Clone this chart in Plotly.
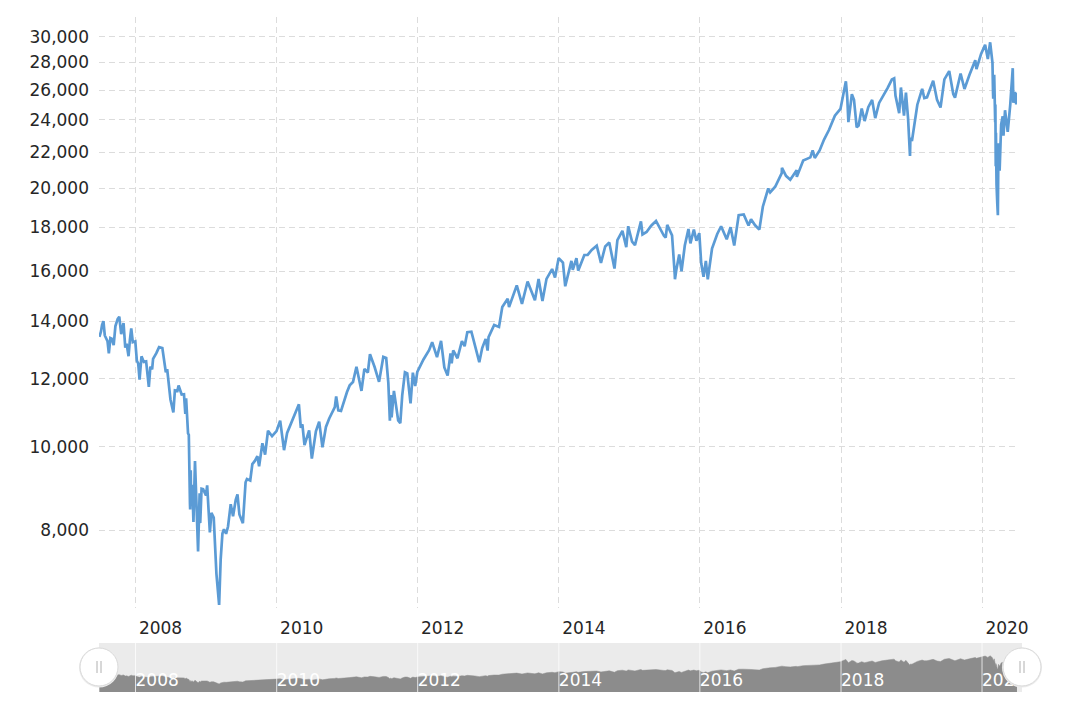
import math
import plotly.graph_objects as go

# ---------------- data (Dow Jones Industrial Average, approximate closes) ----------------
dates = [
    "2007-06-28", "2007-07-06", "2007-07-12", "2007-07-19", "2007-07-26", "2007-08-01", "2007-08-09",
    "2007-08-16", "2007-08-24", "2007-08-31", "2007-09-10", "2007-09-19", "2007-10-01", "2007-10-09",
    "2007-10-19", "2007-10-31", "2007-11-09", "2007-11-16", "2007-11-26", "2007-12-03", "2007-12-10",
    "2007-12-18", "2007-12-31",
    "2008-01-08", "2008-01-15", "2008-01-22", "2008-02-01", "2008-02-13", "2008-02-25", "2008-03-10",
    "2008-03-18", "2008-03-27", "2008-04-01", "2008-04-18", "2008-05-02", "2008-05-19", "2008-05-28",
    "2008-06-06", "2008-06-13", "2008-06-26", "2008-06-30", "2008-07-15", "2008-07-23", "2008-08-05",
    "2008-08-11", "2008-08-27", "2008-09-08", "2008-09-15", "2008-09-19", "2008-09-29", "2008-10-03",
    "2008-10-09", "2008-10-10", "2008-10-13", "2008-10-15", "2008-10-21", "2008-10-27", "2008-11-04",
    "2008-11-12", "2008-11-20", "2008-11-28", "2008-12-01", "2008-12-08", "2008-12-16", "2008-12-31",
    "2009-01-06", "2009-01-20", "2009-01-28", "2009-02-09", "2009-02-23", "2009-03-09", "2009-03-17",
    "2009-03-26", "2009-04-03", "2009-04-14", "2009-04-24", "2009-05-08", "2009-05-20", "2009-06-03",
    "2009-06-12", "2009-06-22", "2009-07-10", "2009-07-24", "2009-07-31", "2009-08-17", "2009-08-28",
    "2009-09-10", "2009-09-23", "2009-10-02", "2009-10-19", "2009-11-02", "2009-11-17", "2009-12-08",
    "2009-12-31",
    "2010-01-19", "2010-02-08", "2010-02-24", "2010-03-31", "2010-04-26", "2010-05-06", "2010-05-14",
    "2010-05-25", "2010-06-18", "2010-07-02", "2010-07-23", "2010-08-09", "2010-08-26", "2010-09-13",
    "2010-09-30", "2010-10-29", "2010-11-05", "2010-11-16", "2010-11-30", "2010-12-31",
    "2011-01-14", "2011-01-31", "2011-02-18", "2011-03-16", "2011-03-31", "2011-04-18", "2011-04-29",
    "2011-05-23", "2011-06-15", "2011-07-07", "2011-07-22", "2011-08-02", "2011-08-08", "2011-08-10",
    "2011-08-15", "2011-08-19", "2011-08-31", "2011-09-22", "2011-10-03", "2011-10-13", "2011-10-27",
    "2011-11-08", "2011-11-25", "2011-12-07", "2011-12-19", "2011-12-30",
    "2012-01-31", "2012-02-29", "2012-03-16", "2012-04-10", "2012-05-01", "2012-05-18", "2012-06-04",
    "2012-06-19", "2012-06-25", "2012-07-03", "2012-07-25", "2012-08-17", "2012-08-31", "2012-09-14",
    "2012-10-05", "2012-10-23", "2012-11-15", "2012-11-30", "2012-12-18", "2012-12-28",
    "2013-01-02", "2013-01-31", "2013-02-25", "2013-03-14", "2013-04-11", "2013-04-18", "2013-05-28",
    "2013-06-24", "2013-07-23", "2013-08-30", "2013-09-18", "2013-10-08", "2013-10-29", "2013-11-27",
    "2013-12-12", "2013-12-31",
    "2014-01-22", "2014-02-03", "2014-03-07", "2014-03-14", "2014-04-02", "2014-04-11", "2014-05-13",
    "2014-05-30", "2014-06-20", "2014-07-16", "2014-08-07", "2014-08-29", "2014-09-19", "2014-10-16",
    "2014-10-31", "2014-11-26", "2014-12-16", "2014-12-26",
    "2015-01-15", "2015-01-30", "2015-02-25", "2015-03-02", "2015-03-10", "2015-03-31", "2015-04-24",
    "2015-05-19", "2015-06-29", "2015-07-08", "2015-07-16", "2015-08-10", "2015-08-24", "2015-08-25",
    "2015-09-01", "2015-09-16", "2015-09-28", "2015-10-15", "2015-11-03", "2015-11-13", "2015-12-01",
    "2015-12-14", "2015-12-29",
    "2016-01-08", "2016-01-20", "2016-02-01", "2016-02-11", "2016-03-04", "2016-03-31", "2016-04-20",
    "2016-05-19", "2016-06-08", "2016-06-27", "2016-07-20", "2016-08-15", "2016-09-09", "2016-09-22",
    "2016-10-13", "2016-11-04", "2016-11-22", "2016-12-20", "2016-12-30",
    "2017-01-25", "2017-02-28", "2017-03-01", "2017-03-22", "2017-04-13", "2017-05-16", "2017-05-17",
    "2017-06-19", "2017-07-26", "2017-08-07", "2017-08-18", "2017-09-12", "2017-10-05", "2017-10-31",
    "2017-11-30", "2017-12-29",
    "2018-01-26", "2018-02-02", "2018-02-08", "2018-02-26", "2018-03-09", "2018-03-22", "2018-03-23",
    "2018-04-02", "2018-04-18", "2018-05-03", "2018-05-22", "2018-06-11", "2018-06-27", "2018-07-17",
    "2018-07-31", "2018-08-29", "2018-09-21", "2018-10-03", "2018-10-10", "2018-10-29", "2018-11-07",
    "2018-11-23", "2018-12-03", "2018-12-14", "2018-12-24", "2018-12-26",
    "2019-01-03", "2019-01-31", "2019-02-25", "2019-03-08", "2019-03-22", "2019-04-23", "2019-05-13",
    "2019-05-31", "2019-06-20", "2019-07-15", "2019-08-05", "2019-08-14", "2019-09-12", "2019-10-02",
    "2019-10-28", "2019-11-27", "2019-12-03", "2019-12-27",
    "2020-01-17", "2020-01-31", "2020-02-12", "2020-02-24", "2020-02-27", "2020-02-28", "2020-03-04",
    "2020-03-09", "2020-03-10", "2020-03-12", "2020-03-13", "2020-03-16", "2020-03-18", "2020-03-20",
    "2020-03-23", "2020-03-26", "2020-04-01", "2020-04-09", "2020-04-17", "2020-04-21", "2020-04-29",
    "2020-05-13", "2020-05-26", "2020-06-08", "2020-06-11", "2020-06-19", "2020-06-26", "2020-06-30",
]

values = [
    13422, 13611, 13861, 14000, 13473, 13362, 13270,
    12846, 13379, 13358, 13127, 13815, 14087, 14165,
    13522, 13930, 13043, 13176, 12743, 13315, 13727,
    13232, 13265,
    12590, 12501, 11971, 12743, 12552, 12570, 11740,
    12393, 12303, 12654, 12849, 13058, 13028, 12594,
    12209, 12307, 11453, 11350, 10962, 11632, 11616,
    11782, 11502, 11511, 10917, 11388, 10365, 10325,
    8579, 8451, 9387, 8577, 9033, 8175, 9625,
    8283, 7552, 8829, 8149, 8934, 8924, 8776,
    9015, 7949, 8375, 8270, 7114, 6547, 7395,
    7924, 8018, 7920, 8076, 8575, 8300, 8675,
    8800, 8339, 8146, 9093, 9172, 9136, 9544,
    9627, 9749, 9488, 10093, 9789, 10437, 10286,
    10428,
    10725, 9908, 10375, 10857, 11205, 10520, 10620,
    10043, 10450, 9686, 10425, 10698, 9985, 10544,
    10788, 11118, 11444, 11023, 11006, 11578,
    11787, 11892, 12391, 11613, 12320, 12201, 12811,
    12381, 11898, 12719, 12681, 11867, 10810, 10720,
    11482, 10818, 11614, 10733, 10655, 11478, 12208,
    12170, 11231, 12196, 11766, 12218,
    12633, 12952, 13233, 12716, 13280, 12369, 12101,
    12837, 12503, 12943, 12676, 13275, 13091, 13593,
    13610, 13103, 12543, 13025, 13351, 12938,
    13412, 13860, 13784, 14539, 14865, 14537, 15409,
    14660, 15568, 14810, 15676, 14776, 15680, 16097,
    15739, 16577,
    16373, 15372, 16452, 16065, 16573, 16027, 16715,
    16717, 16947, 17138, 16368, 17098, 17280, 16117,
    17391, 17828, 17069, 18053,
    17320, 17165, 18225, 18288, 17662, 17776, 18080,
    18312, 17596, 17515, 18120, 17615, 15871, 15666,
    16058, 16739, 16001, 17142, 17918, 17245, 17888,
    17368, 17720,
    16346, 15766, 16449, 15660, 17006, 17685, 18053,
    17435, 18005, 17140, 18595, 18636, 18085, 18392,
    18098, 17888, 19023, 19974, 19763,
    20069, 20812, 21116, 20661, 20453, 20980, 20606,
    21528, 21711, 22118, 21675, 22118, 22775, 23377,
    24272, 24719,
    26616, 25521, 23860, 25709, 25336, 23958, 23533,
    23644, 24748, 23930, 24835, 25322, 24117, 25119,
    25415, 26124, 26744, 26828, 25599, 24443, 26180,
    24286, 25826, 24101, 21792, 22878,
    22686, 24999, 26091, 25450, 25502, 26656, 25324,
    24815, 26753, 27359, 25718, 25479, 27182, 26078,
    27091, 28164, 27503, 28645,
    29348, 28256, 29551, 27961, 25767, 25409, 27091,
    23851, 25018, 21200, 23185, 20189, 19899, 19174,
    18592, 22552, 20943, 23719, 24242, 23018, 24634,
    23248, 24995, 27572, 25128, 25871, 25016, 25813,
]

y_ticks = [8000, 10000, 12000, 14000, 16000, 18000, 20000, 22000, 24000, 26000, 28000, 30000]
x_tick_years = [2008, 2010, 2012, 2014, 2016, 2018, 2020]

# ---------------- figure ----------------
W, H = 1080, 707
ML, MR, MT, MB = 99, 58, 17, 15
PW, PH = W - ML - MR, H - MT - MB

def px_x(px):
    return (px - ML) / PW

def px_y(py):
    return (H - MB - py) / PH

LINE = "#5b9bd5"
GRID = "#dcdcdc"
TXT = "#262626"
FONT = "DejaVu Sans, Verdana, sans-serif"
NAV_MAX = 40000

tickvals_x = [f"{y}-01-01" for y in x_tick_years]
ticktext_x = [str(y) for y in x_tick_years]

fig = go.Figure()
fig.add_trace(go.Scatter(
    x=dates, y=values, mode="lines",
    line=dict(color=LINE, width=2.7),
    xaxis="x", yaxis="y", hoverinfo="skip", showlegend=False,
))
fig.add_trace(go.Scatter(
    x=dates, y=values, mode="lines", fill="tozeroy",
    fillcolor="#8c8c8c", line=dict(color="#8c8c8c", width=0.5),
    xaxis="x2", yaxis="y2", hoverinfo="skip", showlegend=False,
))
# navigator year labels (drawn as a text trace so the handle can cover the last one)
fig.add_trace(go.Scatter(
    x=tickvals_x, y=[NAV_MAX * 0.2] * len(tickvals_x), mode="text",
    text=ticktext_x, textposition="middle right",
    textfont=dict(family=FONT, size=17, color="white"),
    xaxis="x2", yaxis="y2", hoverinfo="skip", showlegend=False, cliponaxis=False,
))

fig.update_layout(
    width=W, height=H,
    margin=dict(l=ML, r=MR, t=MT, b=MB, pad=0),
    paper_bgcolor="white", plot_bgcolor="white",
    font=dict(family=FONT, size=17, color=TXT),
    showlegend=False,
    xaxis=dict(
        domain=[0, px_x(1017)], anchor="y", type="date",
        range=["2007-06-26", "2020-06-30"],
        tickvals=tickvals_x, ticktext=ticktext_x,
        showgrid=True, gridcolor=GRID, gridwidth=1, griddash="6px,4px",
        ticks="", showline=False, zeroline=False,
        ticklabelshift=25, ticklabelstandoff=8,
        tickfont=dict(size=17, color=TXT),
    ),
    yaxis=dict(
        domain=[px_y(608), 1], anchor="x", type="log",
        range=[math.log10(6492), 4.5],
        tickvals=y_ticks, ticktext=[f"{v:,}" for v in y_ticks],
        showgrid=True, gridcolor=GRID, gridwidth=1, griddash="6px,4px",
        ticks="", showline=False, zeroline=False,
        ticklabelstandoff=9,
        tickfont=dict(size=17, color=TXT),
    ),
    xaxis2=dict(
        domain=[0, 1], anchor="y2", type="date",
        range=["2007-06-26", "2020-07-26"],
        showgrid=False, showticklabels=False, ticks="", showline=False, zeroline=False,
    ),
    yaxis2=dict(
        domain=[0, px_y(643)], anchor="x2",
        range=[0, NAV_MAX], visible=False,
    ),
)

shapes = [
    # navigator background
    dict(type="rect", xref="x2 domain", yref="y2 domain", x0=0, x1=1, y0=0, y1=1,
         fillcolor="#ebebeb", line=dict(width=0), layer="below"),
]
# navigator grid lines (above the area)
for t in tickvals_x:
    shapes.append(dict(type="line", xref="x2", yref="y2 domain", x0=t, x1=t, y0=0, y1=1,
                       line=dict(color="rgba(255,255,255,0.75)", width=1), layer="above"))
# handles
for cx in (99, 1022):
    shapes.append(dict(type="circle", xref="paper", yref="paper",
                       x0=px_x(cx - 20), x1=px_x(cx + 20), y0=px_y(687.5), y1=px_y(647.5),
                       fillcolor="#ececec", line=dict(width=0), layer="above"))
    shapes.append(dict(type="circle", xref="paper", yref="paper",
                       x0=px_x(cx - 19), x1=px_x(cx + 19), y0=px_y(686), y1=px_y(648),
                       fillcolor="white", line=dict(color="#d9d9d9", width=1), layer="above"))
    for dx in (-2, 2):
        shapes.append(dict(type="line", xref="paper", yref="paper",
                           x0=px_x(cx + dx), x1=px_x(cx + dx), y0=px_y(673), y1=px_y(661),
                           line=dict(color="#b0b0b0", width=1), layer="above"))
fig.update_layout(shapes=shapes)

fig.write_html("out.html")
